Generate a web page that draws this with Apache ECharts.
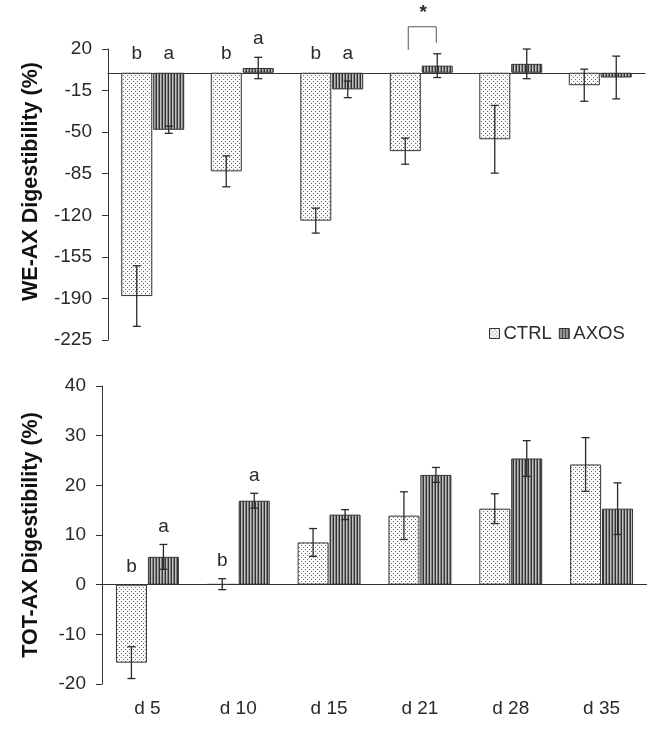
<!DOCTYPE html>
<html>
<head>
<meta charset="utf-8">
<script src="https://cdn.jsdelivr.net/npm/echarts@6/dist/echarts.min.js"></script>
<style>
  html, body { margin: 0; background: #fff; }
  #main { width: 666px; height: 730px; }
</style>
</head>
<body>
<div id="main"></div>
<script>
// data
const days = ['d 5', 'd 10', 'd 15', 'd 21', 'd 28', 'd 35'];
const weCtrl = [-188, -83, -124.5, -66, -56, -10.5];
const weCtrlErr = [25.5, 13, 10.5, 11, 28.5, 13.5];
const weAxos = [-48, 4, -14, 6, 7.5, -4];
const weAxosErr = [3, 9, 7, 10, 12.5, 18];
const totCtrl = [-15.7, 0.1, 8.5, 13.9, 15.3, 24.2];
const totCtrlErr = [3.2, 1.1, 2.8, 4.8, 3, 5.4];
const totAxos = [5.6, 16.9, 14.1, 22.1, 25.4, 15.3];
const totAxosErr = [2.5, 1.5, 1, 1.5, 3.6, 5.2];
const weLetters = [['b', 'a'], ['b', 'a'], ['b', 'a'], ['', ''], ['', ''], ['', '']];
const totLetters = [['b', 'a'], ['b', 'a'], ['', ''], ['', ''], ['', ''], ['', '']];
const weTicks = { min: -225, max: 20, interval: 35 };
const totTicks = { min: -20, max: 40, interval: 10 };
const sigDay = 3; // the '*' bracket on d 21

const FONT = '"Liberation Sans", Arial, sans-serif';
const INK = '#2a2a2a';
const BAR_W = 31;
const OFF = 16; // half distance between the two bar centres

// fill patterns
function dotPattern() {
    const c = document.createElement('canvas');
    c.width = 4; c.height = 4;
    const g = c.getContext('2d');
    g.fillStyle = '#fafafa'; g.fillRect(0, 0, 4, 4);
    g.fillStyle = '#6a6a6a';
    g.fillRect(1, 1, 1, 1);
    g.fillRect(3, 3, 1, 1);
    return { image: c, repeat: 'repeat' };
}
function stripePattern() {
    const c = document.createElement('canvas');
    c.width = 3; c.height = 4;
    const g = c.getContext('2d');
    g.fillStyle = '#333333'; g.fillRect(0, 0, 1, 4);
    g.fillStyle = '#c0c0c0'; g.fillRect(1, 0, 1, 4);
    g.fillStyle = '#808080'; g.fillRect(2, 0, 1, 4);
    return { image: c, repeat: 'repeat' };
}
const ctrlFill = dotPattern();
const axosFill = stripePattern();

function errSeries(axisIdx, vals, errs, dx) {
    return {
        type: 'custom',
        xAxisIndex: axisIdx, yAxisIndex: axisIdx,
        clip: false, silent: true, z: 5,
        data: vals.map((v, i) => [i, v, errs[i]]),
        encode: { x: 0, y: 1 },
        renderItem: (params, api) => {
            const i = api.value(0), v = api.value(1), e = api.value(2);
            const x = api.coord([i, v])[0] + dx;
            const yt = api.coord([i, v + e])[1];
            const yb = api.coord([i, v - e])[1];
            const st = { stroke: INK, lineWidth: 1.3 };
            return {
                type: 'group',
                children: [
                    { type: 'line', shape: { x1: x, y1: yt, x2: x, y2: yb }, style: st },
                    { type: 'line', shape: { x1: x - 4, y1: yt, x2: x + 4, y2: yt }, style: st },
                    { type: 'line', shape: { x1: x - 4, y1: yb, x2: x + 4, y2: yb }, style: st }
                ]
            };
        }
    };
}

function letterSeries(axisIdx, letters, c, ce, a, ae, lift) {
    const items = [];
    letters.forEach((pair, i) => {
        if (pair[0]) items.push([i, Math.max(0, c[i] + ce[i]), -OFF, pair[0]]);
        if (pair[1]) items.push([i, Math.max(0, a[i] + ae[i]), OFF, pair[1]]);
    });
    return {
        type: 'custom',
        xAxisIndex: axisIdx, yAxisIndex: axisIdx,
        clip: false, silent: true, z: 6,
        data: items,
        encode: { x: 0, y: 1 },
        renderItem: (params, api) => {
            const p = api.coord([api.value(0), api.value(1)]);
            return {
                type: 'text',
                style: {
                    x: p[0] + api.value(2), y: p[1] - lift,
                    text: items[params.dataIndex][3],
                    font: '19px ' + FONT, fill: INK,
                    align: 'center', verticalAlign: 'middle'
                }
            };
        }
    };
}

const chart = echarts.init(document.getElementById('main'));

const yAxisBase = {
    type: 'value',
    nameLocation: 'middle',
    nameRotate: 90,
    axisLine: { show: true, lineStyle: { color: '#333', width: 1 } },
    axisTick: { show: true, length: 6, lineStyle: { color: '#333' } },
    axisLabel: { fontFamily: FONT, fontSize: 19, color: INK, margin: 16 },
    splitLine: { show: false }
};
const nameStyle = { fontFamily: FONT, fontWeight: 'bold', fontSize: 21.5, color: '#111' };

const option = {
    animation: false,
    backgroundColor: '#fff',
    grid: [
        { left: 108, right: 21, top: 49, height: 291 },
        { left: 102, right: 19, top: 386, height: 298 }
    ],
    legend: {
        data: ['CTRL', 'AXOS'],
        left: 484, top: 319,
        icon: 'rect',
        itemWidth: 10, itemHeight: 10, itemGap: 7,
        textStyle: { fontFamily: FONT, fontSize: 18.5, color: INK, padding: [0, 0, 0, -1] },
        itemStyle: { borderColor: '#333', borderWidth: 1 }
    },
    xAxis: [
        {
            type: 'category', gridIndex: 0, data: days,
            axisLine: { show: true, onZero: true, lineStyle: { color: '#333', width: 1.2 } },
            axisTick: { show: false },
            axisLabel: { show: false }
        },
        {
            type: 'category', gridIndex: 1, data: days,
            axisLine: { show: false, onZero: false },
            axisTick: { show: false },
            axisLabel: { fontFamily: FONT, fontSize: 19, color: INK, margin: 15 }
        }
    ],
    yAxis: [
        Object.assign({}, yAxisBase, {
            gridIndex: 0, name: 'WE-AX Digestibility (%)', nameGap: 66,
            nameTextStyle: Object.assign({ padding: [0, 0, 0, 26] }, nameStyle),
            min: weTicks.min, max: weTicks.max, interval: weTicks.interval
        }),
        Object.assign({}, yAxisBase, {
            gridIndex: 1, name: 'TOT-AX Digestibility (%)', nameGap: 60,
            nameTextStyle: nameStyle,
            min: totTicks.min, max: totTicks.max, interval: totTicks.interval
        })
    ],
    series: [
        {
            name: 'CTRL', type: 'bar', xAxisIndex: 0, yAxisIndex: 0,
            data: weCtrl, barWidth: BAR_W, barGap: '3%',
            itemStyle: { color: ctrlFill, borderColor: '#333', borderWidth: 1 }
        },
        {
            name: 'AXOS', type: 'bar', xAxisIndex: 0, yAxisIndex: 0,
            data: weAxos, barWidth: BAR_W, barGap: '3%',
            itemStyle: { color: axosFill, borderColor: '#333', borderWidth: 1 }
        },
        {
            name: 'CTRL', type: 'bar', xAxisIndex: 1, yAxisIndex: 1,
            data: totCtrl, barWidth: BAR_W, barGap: '3%',
            itemStyle: { color: ctrlFill, borderColor: '#333', borderWidth: 1 },
            markLine: {
                silent: true, symbol: 'none', label: { show: false },
                lineStyle: { color: '#333', width: 1.2, type: 'solid' },
                data: [{ yAxis: 0 }]
            }
        },
        {
            name: 'AXOS', type: 'bar', xAxisIndex: 1, yAxisIndex: 1,
            data: totAxos, barWidth: BAR_W, barGap: '3%',
            itemStyle: { color: axosFill, borderColor: '#333', borderWidth: 1 }
        },
        errSeries(0, weCtrl, weCtrlErr, -OFF),
        errSeries(0, weAxos, weAxosErr, OFF),
        errSeries(1, totCtrl, totCtrlErr, -OFF),
        errSeries(1, totAxos, totAxosErr, OFF),
        letterSeries(0, weLetters, weCtrl, weCtrlErr, weAxos, weAxosErr, 19),
        letterSeries(1, totLetters, totCtrl, totCtrlErr, totAxos, totAxosErr, 18),
        {
            // significance bracket over d 21
            type: 'custom', xAxisIndex: 0, yAxisIndex: 0,
            clip: false, silent: true, z: 6,
            data: [[sigDay, 0]],
            encode: { x: 0, y: 1 },
            renderItem: (params, api) => {
                const p = api.coord([api.value(0), 0]);
                const xl = p[0] - 13, xr = p[0] + 15;
                const st = { stroke: '#555', lineWidth: 1, fill: null };
                return {
                    type: 'group',
                    children: [
                        { type: 'polyline', shape: { points: [[xl, p[1] - 23], [xl, p[1] - 46], [xr, p[1] - 46], [xr, p[1] - 30]] }, style: st },
                        { type: 'text', style: { x: p[0] + 2, y: p[1] - 60, text: '*', font: 'bold 19px ' + FONT, fill: INK, align: 'center', verticalAlign: 'middle' } }
                    ]
                };
            }
        }
    ]
};

chart.setOption(option);
</script>
</body>
</html>
